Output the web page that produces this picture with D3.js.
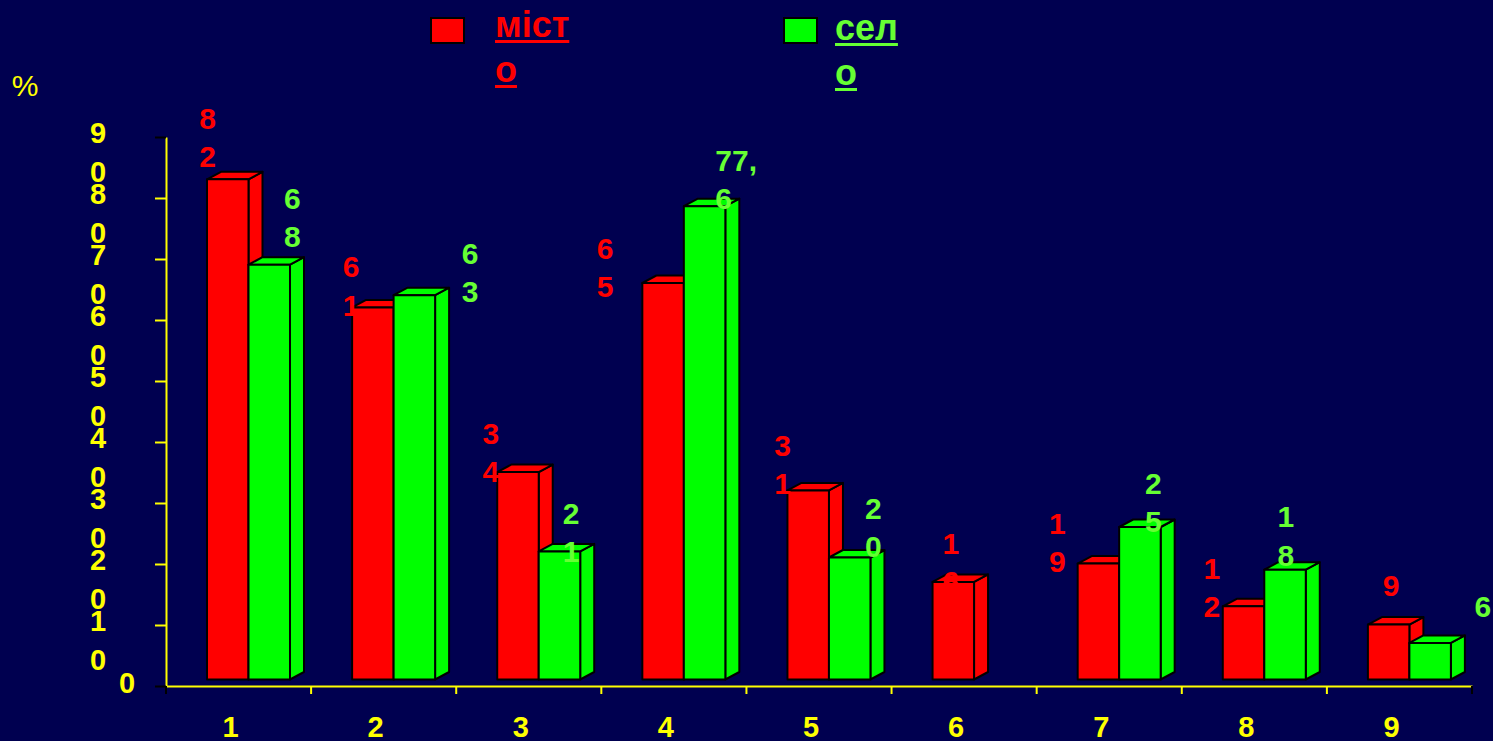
<!DOCTYPE html>
<html><head><meta charset="utf-8">
<script src="https://cdn.jsdelivr.net/npm/d3@7"></script>
<style>html,body{margin:0;padding:0;background:#000050;overflow:hidden}
text{font-family:"Liberation Sans",Arial,sans-serif}</style>
</head><body><svg id="c" width="1493" height="741"></svg>
<script>
// ---- data ----
const categories = ["1","2","3","4","5","6","7","8","9"];
const seriesNames = ["місто","село"];
const cityValues = [82,61,34,65,31,16,19,12,9];
const villageValues = [68,63,21,77.6,20,null,25,18,6];
const yTickValues = [0,10,20,30,40,50,60,70,80,90];
const yUnit = "%";

// ---- layout / style ----
const W = 1493, H = 741;
const bg = "#000050";
const barColors = ["#ff0000","#00ff00"];
const textColors = ["#ff0000","#66ff33"];
const axisColor = "#ffff00";
const depthX = 14, depthY = -7.5, floorLift = 6.5;
// label offsets: [dx of left edge from bar centre, dy of first line from bar top]
const labelShift = [
  [[-28.5,-61],[-30,-40.7],[-35.5,-38.8],[-66.3,-34.7],[-34,-45.4],[-10.8,-38.6],[-49.3,-40.3],[-40,-38],[-5.8,-39.6]],
  [[14.8,-66.4],[47.4,-41.9],[3.3,-38.1],[10.7,-46],[15.3,-49.2],[0,0],[5.1,-43.7],[-7.6,-53],[44.3,-36.2]]
];

const svg = d3.select("#c");
svg.append("rect").attr("width",W).attr("height",H).attr("fill",bg);

const x = d3.scaleBand().domain(categories).range([166,1472]).padding(0);
const xs = d3.scaleBand().domain(seriesNames).range([41,124]).padding(0);
const y = d3.scaleLinear().domain([0,90]).range([686,137]);
const series = [cityValues, villageValues];
const fmt = d3.formatLocale({decimal:",",thousands:" ",grouping:[3],currency:["","₴"]}).format(".4~g");

// ---- y axis ----
const yAxis = d3.axisLeft(y).tickValues(yTickValues).tickSize(11).tickSizeOuter(0).tickFormat("");
const gy = svg.append("g").attr("transform","translate(166,0)").call(yAxis);
gy.select(".domain").attr("stroke",axisColor).attr("stroke-width",2);
gy.selectAll(".tick line").attr("stroke",d=> (d===0||d===90)?"#000":axisColor).attr("stroke-width",2);
const ylab = svg.append("g").attr("fill",axisColor).attr("font-weight","bold").attr("font-size",29);
yTickValues.forEach(v=>{
  const s = String(v);
  if (s.length===1) {
    ylab.append("text").attr("x",127).attr("y",y(v)-3).attr("text-anchor","middle")
      .attr("dominant-baseline","central").text(s);
  } else {
    s.split("").forEach((ch,i)=>{
      ylab.append("text").attr("x",98).attr("y",y(v)-4+i*38.5).attr("text-anchor","middle")
        .attr("dominant-baseline","central").text(ch);
    });
  }
});
svg.append("text").attr("x",25).attr("y",85).attr("text-anchor","middle").attr("dominant-baseline","central")
  .attr("fill",axisColor).attr("font-size",30).text(yUnit);

// ---- x axis ----
const xAxis = d3.axisBottom(x).tickSize(0).tickSizeOuter(0);
const gx = svg.append("g").attr("transform","translate(0,686)").call(xAxis);
gx.select(".domain").attr("stroke",axisColor).attr("stroke-width",2);
gx.selectAll(".tick text").attr("fill",axisColor).attr("font-size",29).attr("font-weight","bold")
  .attr("font-family","Liberation Sans, Arial, sans-serif")
  .attr("x",-8).attr("y",41).attr("dy",null).attr("dominant-baseline","central");
const bounds = categories.map(c=>x(c)).concat([x.range()[1]]);
gx.selectAll("line.bt").data(bounds).enter().append("line").attr("class","bt")
  .attr("x1",d=>d).attr("x2",d=>d).attr("y1",0).attr("y2",8)
  .attr("stroke",(d,i)=> (i===0||i===bounds.length-1)?"#000":axisColor).attr("stroke-width",2);

// ---- bars ----
const gb = svg.append("g").attr("transform",`translate(0,${-floorLift})`);
categories.forEach((c,i)=>{
  series.forEach((vals,s)=>{
    const v = vals[i];
    if (v==null) return;
    const x0 = x(c)+xs(seriesNames[s]), w = xs.bandwidth();
    const yt = y(v), yb = y(0);
    const col = barColors[s];
    const g = gb.append("g").attr("stroke","#000").attr("stroke-width",2).attr("stroke-linejoin","round");
    g.append("polygon").attr("fill",col)
      .attr("points",[[x0+w,yt],[x0+w+depthX,yt+depthY],[x0+w+depthX,yb+depthY],[x0+w,yb]].join(" "));
    g.append("polygon").attr("fill",col)
      .attr("points",[[x0,yt],[x0+depthX,yt+depthY],[x0+w+depthX,yt+depthY],[x0+w,yt]].join(" "));
    g.append("rect").attr("x",x0).attr("y",yt).attr("width",w).attr("height",yb-yt).attr("fill",col);
  });
});

// ---- value labels ----
const gl = svg.append("g").attr("font-weight","bold").attr("font-size",30);
categories.forEach((c,i)=>{
  series.forEach((vals,s)=>{
    const v = vals[i];
    if (v==null) return;
    const str = fmt(v);
    const lines = str.length>3 ? [str.slice(0,3), str.slice(3)] : str.split("");
    const cx = x(c)+xs(seriesNames[s])+xs.bandwidth()/2;
    const top = y(v)-floorLift;
    const [dx,dy] = labelShift[s][i];
    lines.forEach((ln,k)=>{
      gl.append("text").attr("x",cx+dx).attr("y",top+dy+k*38.3)
        .attr("dominant-baseline","central").attr("fill",textColors[s]).text(ln);
    });
  });
});

// ---- legend ----
const legX = [431,784], legTextX = [495,835], legBase = [37,40];
const legFont = 36;
seriesNames.forEach((name,s)=>{
  svg.append("rect").attr("x",legX[s]).attr("y",18).attr("width",33).attr("height",25)
    .attr("fill",barColors[s]).attr("stroke","#000").attr("stroke-width",2);
  // wrap by measured width of a narrow text box
  const maxW = 79;
  const probe = svg.append("text").attr("font-size",legFont).attr("font-weight","bold");
  const lines = []; let cur = "";
  for (const ch of name) {
    probe.text(cur+ch);
    if (cur && probe.node().getComputedTextLength() > maxW) { lines.push(cur); cur = ch; }
    else cur += ch;
  }
  lines.push(cur); probe.remove();
  lines.forEach((ln,k)=>{
    const t = svg.append("text").attr("x",legTextX[s]).attr("y",legBase[s]+k*45)
      .attr("font-size",legFont).attr("font-weight","bold").attr("fill",textColors[s]).text(ln);
    const tw = t.node().getComputedTextLength();
    svg.append("rect").attr("x",legTextX[s]).attr("y",legBase[s]+k*45+3).attr("width",tw).attr("height",3)
      .attr("fill",textColors[s]);
  });
});
</script></body></html>
